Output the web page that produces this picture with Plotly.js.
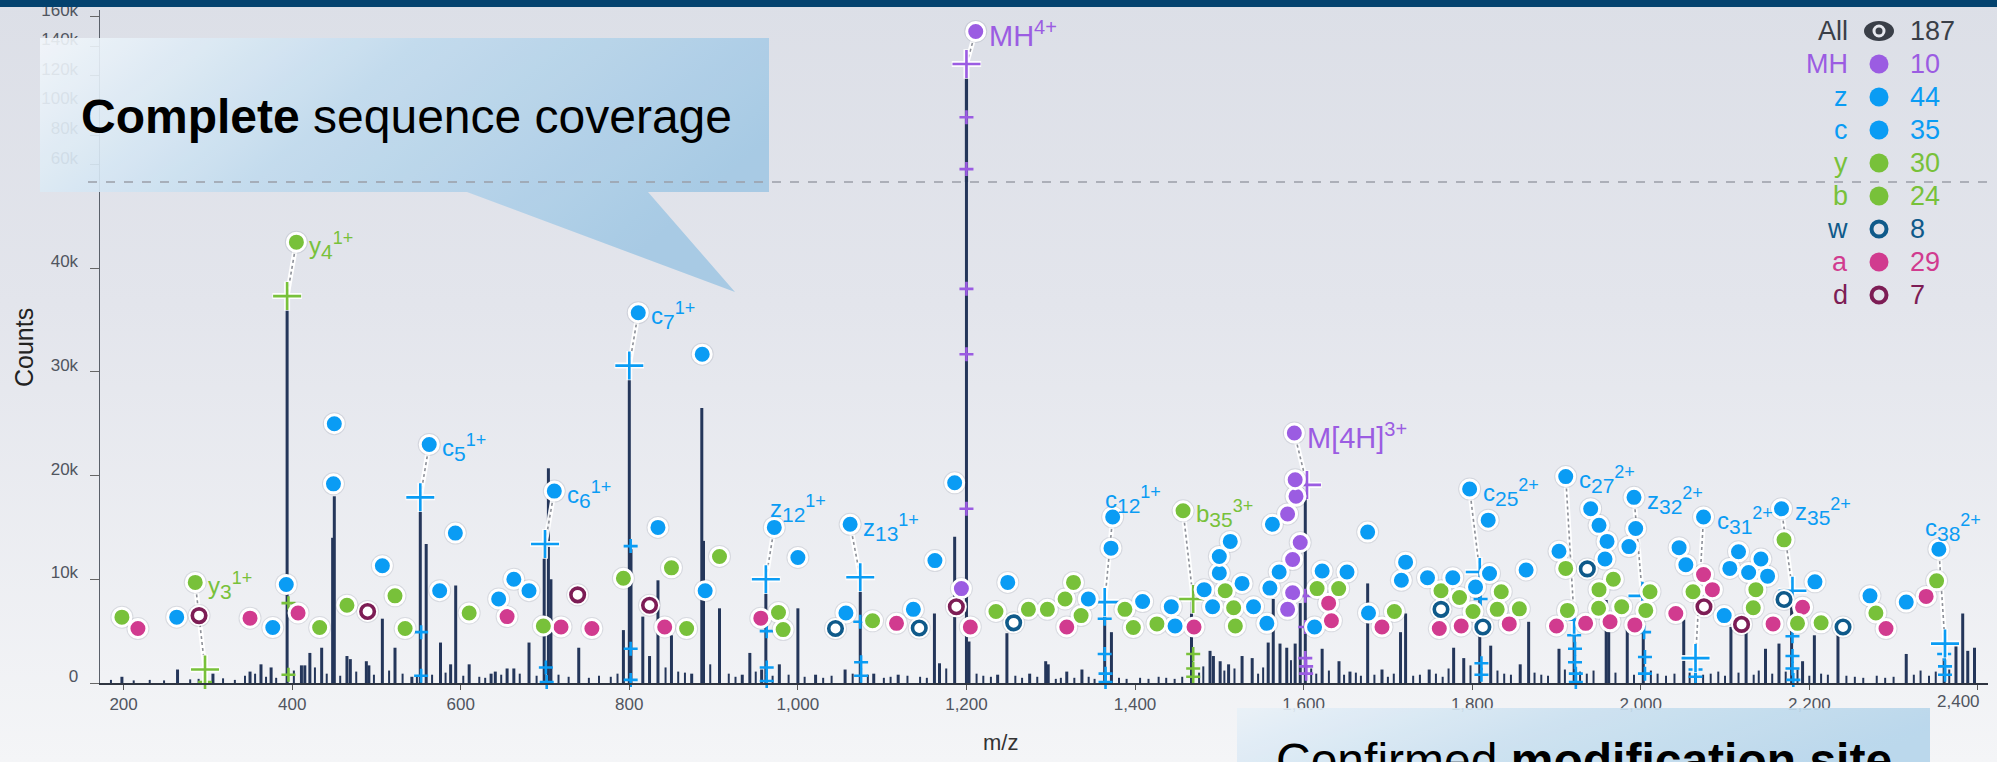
<!DOCTYPE html>
<html>
<head>
<meta charset="utf-8">
<script src="https://cdn.plot.ly/plotly-3.0.1.min.js"></script>
<style>
html,body{margin:0;padding:0;width:1997px;height:762px;overflow:hidden;
background:linear-gradient(to bottom,#dcdfe7 0%,#e3e5ec 40%,#f4f5f7 100%);}
#chart{width:1997px;height:762px;}
</style>
</head>
<body>
<div id="chart"></div>
<script>
// ================= DATA =================
// Spectrum: main peaks (m/z, counts)
const peakMz = [198,264,306,350,363,375,394,411,415,421,435,448,450,465,469,488,491,507,522,542,552,559,576,588,594,610,636,641,655,663,681,699,704,707,740,793,800,802,816,824,834,850,874,886,888,907,934,943,957,962,978,1000,1021,1056,1074,1090,1119,1162,1168,1186,1200,1203,1237,1248,1275,1294,1297,1319,1337,1364,1372,1467,1489,1493,1501,1511,1527,1539,1558,1564,1572,1580,1590,1596,1602,1622,1642,1655,1676,1693,1715,1721,1749,1778,1790,1809,1822,1857,1867,1903,1921,1959,1962,1984,2003,2051,2065,2107,2125,2148,2164,2179,2192,2206,2234,2315,2360,2374,2382,2388,2396];
const peakCounts = [600,1300,900,1100,1800,1500,37000,1700,1700,2900,3400,14000,18000,2600,2300,2100,1700,6200,3400,600,17600,13400,3900,1800,9400,1800,900,1100,1400,1400,3900,13300,20700,10000,3400,5100,30400,12900,6400,2600,9900,4600,900,26500,13700,7200,800,2900,1300,10000,1800,7200,800,1300,10100,900,800,6700,1900,14100,128000,4000,800,4800,900,2100,1800,1100,1300,7800,4900,8000,3100,2600,2100,1800,2600,2400,3900,8100,3800,3400,3800,7700,19000,3300,2100,1100,9600,1300,4900,6700,1300,3400,2400,10600,3600,1800,5900,3300,6100,8000,5100,5200,8300,6100,2400,5400,4900,3300,3800,8800,2100,4600,4600,2800,3800,3600,6700,3100,3400];
// Spectrum: small baseline peaks
const minorMz = [185,212,231,248,279,289,318,332,344,356,369,381,402,427,441,457,476,497,515,531,548,566,582,603,622,629,648,670,690,716,728,752,764,778,786,843,858,866,896,918,926,950,970,989,1008,1030,1040,1065,1083,1102,1110,1130,1145,1153,1176,1212,1220,1229,1258,1266,1284,1306,1312,1328,1345,1352,1381,1390,1406,1416,1428,1437,1447,1456,1476,1481,1506,1518,1546,1552,1585,1609,1615,1630,1648,1662,1668,1684,1700,1707,1730,1738,1757,1765,1772,1798,1830,1838,1846,1874,1882,1890,1910,1928,1936,1944,1970,1992,2012,2020,2030,2040,2058,2074,2083,2092,2100,2116,2134,2140,2156,2172,2186,2200,2214,2222,2244,2254,2264,2280,2290,2300,2324,2332,2342,2350,2366];
const minorCounts = [300,250,300,250,350,400,450,300,700,900,600,500,1200,1500,900,700,1100,800,1200,900,700,800,1000,700,600,500,800,900,700,800,600,500,700,600,900,1500,1100,1000,1800,900,600,1100,700,800,600,500,700,900,800,500,600,700,600,500,1400,900,700,600,700,500,600,400,500,500,600,400,500,400,500,400,600,500,400,600,1000,1600,1200,1400,900,1500,2200,1400,900,1200,800,1000,700,800,600,900,700,800,900,600,1400,1700,1200,900,800,1000,800,700,1300,1100,900,1200,1000,800,1200,900,700,900,1000,800,900,1100,700,1000,800,1200,900,1100,1300,700,900,800,700,600,500,700,500,600,800,1200,700,1100,1300];

// Fragment ions (unlabelled), placed at (m/z, counts)
const czMz = [263,377,393,450,449,507,575,593.6,645,663,681,834,886.5,890,1000,1057,1137,1162.6,1186,1249,1344.6,1371.5,1409,1443,1447.5,1482,1492,1500,1500,1513,1527,1540.6,1556.4,1563,1560,1571,1622,1651.5,1613,1676,1677,1721,1716,1747,1777,1819,1820.6,1804,1864,1903,1940.6,1950.5,1960,1957.6,1994,1986,2045.5,2053.5,2099,2116,2105.7,2128,2142.6,2150.5,2206.7,2272,2315];
const czCounts = [6350,5350,9500,25000,19200,11300,8900,14450,8100,10000,8900,15000,31700,8900,12100,6750,7100,11800,19300,9700,8100,13000,7850,7350,5500,9000,7350,10600,12200,13650,9600,7350,5750,15300,9150,10700,10800,10700,5400,14550,6750,11650,9900,10150,10150,15700,10550,9250,10900,12700,16800,15200,13650,11950,14900,13150,13050,11400,6500,12650,11050,10650,11950,10300,9750,8400,7800];
const ybMz = [198,432.6,465,522,534,610,698,793,850,868,907,977,982.5,1088.6,1235,1273.5,1296,1327,1317,1336,1388,1398,1426,1507,1517,1519,1616,1641.6,1707.7,1763,1785,1801,1834.5,1829.7,1856,1911,1913,1967.5,1950.5,1950,1977.4,2011,2006,2062,2136.6,2133.5,2170,2186,2214,2279,2351];
const ybCounts = [6350,5350,7500,8400,5250,6750,5500,10100,11100,5250,12200,6800,5150,6000,6900,7100,7100,9700,8100,6500,7100,5350,5700,8900,7250,5500,9100,9100,6900,8900,8250,6900,8800,7100,7150,11050,7000,10000,9000,7200,7350,8800,7000,8800,9000,7250,13800,5750,5800,6750,9850];
const aMz = [217,350,407,655,719,755.6,842,956,1117,1204.6,1319,1470,1629.7,1633,1693,1761,1787,1844,1900,1934.6,1963.6,1993,2041.6,2074.5,2085,2157,2192,2291,2338.6];
const aCounts = [5250,6250,6750,6400,5400,5250,5400,6250,5750,5400,5400,5400,7700,6000,5400,5250,5500,5700,5500,5750,5900,5600,6700,10450,9000,5700,7300,5250,8350];
const wMz = [1044.6,1144,1256,1763,1812.7,1936.6,2170,2240];
const wCounts = [5250,5300,5800,7100,5400,11000,8050,5400];
const dMz = [289.5,489.5,738.7,824,1188,2075,2119.6];
const dCounts = [6500,6900,8500,7500,7350,7350,5650];
const mhMz = [1194,1581,1591,1590,1596,1587,1587,1581];
const mhCounts = [9100,16300,18000,19600,13550,11900,8700,7100];

// Labelled ions: label dot position and matched peak position
const labIon = ['y','y','c','c','c','z','z','MH','c','b','MH','c','c','z','c','z','c'];
const labBase = ['y','y','c','c','c','z','z','MH','c','b','M[4H]','c','c','z','c','z','c'];
const labSub = ['3','4','5','6','7','12','13','','12','35','','25','27','32','31','35','38'];
const labCharge = ['1+','1+','1+','1+','1+','1+','1+','4+','1+','3+','3+','2+','2+','2+','2+','2+','2+'];
const labMz = [285,405,562.6,711,810.6,972,1062,1211,1373.5,1457,1589,1797,1911,1992,2074.5,2167,2353.7];
const labCounts = [9700,42500,23000,18500,35700,15000,15300,150000,16000,16600,24100,18700,19900,17900,16000,16800,12900];
const matchMz = [296.6,394,552,700,800,962,1074,1200,1364,1469,1604,1809,1921,2002,2065,2180,2361];
const matchCounts = [1300,37300,17900,13400,30600,10000,10200,128000,7800,8100,19100,10700,6100,8400,2400,8900,3800];

// Isotope match marks
const isoGreenMz = [395.6,395.6,296.6,1469,1469,1469];
const isoGreenCounts = [7700,800,100,2800,1400,600];
const isoBlueMz = [553,553,701,702,801.6,801.6,801.6,963,963,963,1074,1075,1075,1364,1364,1365,1365,1810,1811,1811,1921,1922,1922,1923,1923,2004,2005,2005,2065,2065,2180,2180,2180,2181,2360,2361,2361];
const isoBlueCounts = [4900,700,1500,100,13200,3300,300,5000,1500,200,5900,2000,700,6200,2800,900,100,8100,1900,800,4600,3300,2000,900,100,4900,2500,900,1300,600,4500,2600,1400,300,2800,1600,800];
const isoPurpleMz = [1200,1200,1200,1200,1200,1602,1602,1602,1603,1603];
const isoPurpleCounts = [92000,57000,38000,31700,16800,8400,5400,2400,1600,900];

// Legend
const legendNames = ['All','MH','z','c','y','b','w','a','d'];
const legendCounts = [187,10,44,35,30,24,8,29,7];

// Axis ticks
const xTickVals = [200,400,600,800,1000,1200,1400,1600,1800,2000,2200,2400];
const xTickText = ['200','400','600','800','1,000','1,200','1,400','1,600','1,800','2,000','2,200','2,400'];
const yTickVals = [0,10000,20000,30000,40000];
const yTickText = ['0','10k','20k','30k','40k'];
const y2TickVals = [60000,80000,100000,120000,140000,160000];
const y2TickText = ['60k','80k','100k','120k','140k','160k'];

// ================= STYLE / LAYOUT =================
const W = 1997, H = 762;
const px = v => v / W, py = v => 1 - v / H;
const FONT = 'Liberation Sans, Arial, Helvetica, sans-serif';
const Y_SPLIT = 48300, Y2_TOP = 164500;
const COL = {MH:'#9b5ce2', z:'#0a9cf4', c:'#0a9cf4', y:'#78c13a', b:'#78c13a', w:'#0f5a8a', a:'#d13b8f', d:'#7d1d55'};
const SPEC = '#24365a';
const axisOf = v => v > Y_SPLIT ? 'y2' : 'y';

const traces = [];

function sticks(mz, cnt, ax, w) {
  const x = [], y = [];
  mz.forEach((m, i) => {
    if (ax === 'y2' && cnt[i] <= Y_SPLIT) return;
    x.push(m, m, null); y.push(0, cnt[i], null);
  });
  if (!x.length) return;
  traces.push({type:'scatter', mode:'lines', x, y, yaxis:ax, line:{color:SPEC, width:w}, hoverinfo:'skip', showlegend:false});
}
sticks(minorMz, minorCounts, 'y', 2);
sticks(peakMz, peakCounts, 'y', 3);
sticks(peakMz, peakCounts, 'y2', 3.2);

function pts(xs, ys, marker) {
  ['y','y2'].forEach(ax => {
    const idx = ys.map((v, i) => i).filter(i => axisOf(ys[i]) === ax);
    if (!idx.length) return;
    traces.push({type:'scatter', mode:'markers', x: idx.map(i => xs[i]), y: idx.map(i => ys[i]), yaxis: ax,
      marker, cliponaxis:false, hoverinfo:'skip', showlegend:false});
  });
}

// connectors
['y','y2'].forEach(ax => {
  const x = [], y = [];
  labMz.forEach((m, i) => {
    if (axisOf(labCounts[i]) !== ax) return;
    x.push(m, matchMz[i], null); y.push(labCounts[i], matchCounts[i], null);
  });
  if (!x.length) return;
  traces.push({type:'scatter', mode:'lines', x, y, yaxis:ax, line:{color:'rgba(255,255,255,0.95)', width:5}, hoverinfo:'skip', showlegend:false, cliponaxis:false});
  traces.push({type:'scatter', mode:'lines', x, y, yaxis:ax, line:{color:'#8d9098', width:1.6, dash:'dot'}, hoverinfo:'skip', showlegend:false, cliponaxis:false});
});

// isotope marks
const smallPlus = c => ({symbol:'cross-thin', size:10, line:{color:c, width:2.6}});
pts(isoGreenMz, isoGreenCounts, smallPlus(COL.y));
pts(isoBlueMz, isoBlueCounts, smallPlus(COL.c));
pts(isoPurpleMz, isoPurpleCounts, smallPlus(COL.MH));

// matched peak "+" with halo
const matchColors = labIon.map(k => COL[k]);
['y','y2'].forEach(ax => {
  const idx = labMz.map((v, i) => i).filter(i => axisOf(matchCounts[i]) === ax);
  const x = idx.map(i => matchMz[i]), y = idx.map(i => matchCounts[i]);
  traces.push({type:'scatter', mode:'markers', x, y, yaxis:ax, cliponaxis:false, hoverinfo:'skip', showlegend:false,
    marker:{symbol:'cross-thin', size:21, line:{color:'rgba(255,255,255,0.9)', width:6}}});
  traces.push({type:'scatter', mode:'markers', x, y, yaxis:ax, cliponaxis:false, hoverinfo:'skip', showlegend:false,
    marker:{symbol:'cross-thin', size:20, line:{color: idx.map(i => matchColors[i]), width:2.6}}});
});

// dot shadows
const shadow = {size:23, color:'rgba(70,80,100,0.13)', line:{width:0}};
pts(czMz.concat(ybMz, aMz, wMz, dMz, mhMz, labMz), czCounts.concat(ybCounts, aCounts, wCounts, dCounts, mhCounts, labCounts), shadow);

const dot = c => ({symbol:'circle', size:18, color:c, line:{color:'#ffffff', width:3}});
const ringHalo = {symbol:'circle', size:21, color:'#ffffff', line:{width:0}};
const ring = c => ({symbol:'circle', size:13.5, color:'#ffffff', line:{color:c, width:3.6}});

pts(aMz, aCounts, dot(COL.a));
pts(ybMz, ybCounts, dot(COL.y));
pts(czMz, czCounts, dot(COL.c));
pts(wMz, wCounts, ringHalo); pts(wMz, wCounts, ring(COL.w));
pts(dMz, dCounts, ringHalo); pts(dMz, dCounts, ring(COL.d));
pts(mhMz, mhCounts, dot(COL.MH));
['y','y2'].forEach(ax => {
  const idx = labMz.map((v, i) => i).filter(i => axisOf(labCounts[i]) === ax);
  traces.push({type:'scatter', mode:'markers', x: idx.map(i => labMz[i]), y: idx.map(i => labCounts[i]), yaxis:ax,
    cliponaxis:false, hoverinfo:'skip', showlegend:false,
    marker:{symbol:'circle', size:18, color: idx.map(i => matchColors[i]), line:{color:'#fff', width:3}}});
});

// ---------- annotations ----------
const annotations = [];
const labelShift = {5:[-6,19], 8:[-10,18], 16:[-16,22]};
labMz.forEach((m, i) => {
  const big = labIon[i] === 'MH';
  const sh = labelShift[i] || [11,-3];
  let txt = labBase[i];
  if (labSub[i]) txt += '<sub><span style="font-size:21px">' + labSub[i] + '</span></sub>';
  txt += '<sup><span style="font-size:' + (big ? 20 : 18) + 'px">' + labCharge[i] + '</span></sup>';
  annotations.push({xref:'x', yref:axisOf(labCounts[i]), x:m, y:labCounts[i], text:txt, showarrow:false,
    xanchor:'left', yanchor:'middle', xshift:sh[0], yshift:sh[1],
    font:{family:FONT, size: big ? 29 : 24, color: COL[labIon[i]]}});
});
annotations.push({xref:'paper', yref:'paper', x:px(24), y:py(348), text:'Counts', textangle:-90, showarrow:false,
  xanchor:'center', yanchor:'middle', font:{family:FONT, size:25, color:'#222'}});
annotations.push({xref:'paper', yref:'paper', x:px(1000), y:py(742), text:'m/z', showarrow:false,
  xanchor:'center', yanchor:'middle', font:{family:FONT, size:22, color:'#333'}});
annotations.push({xref:'paper', yref:'paper', x:px(79), y:py(117), text:'<b>Complete</b> sequence coverage', showarrow:false,
  xanchor:'left', yanchor:'middle', font:{family:FONT, size:48, color:'#000'}});
annotations.push({xref:'paper', yref:'paper', x:px(1274), y:py(760), text:'Confirmed <b>modification site</b>', showarrow:false,
  xanchor:'left', yanchor:'middle', font:{family:FONT, size:48, color:'#000'}});

// last x tick label sits left of its tick (as in the reference)
const tickFont = {family:FONT, size:17, color:'#50555f'};
const lastTick = xTickVals.length - 1;
annotations.push({xref:'x', yref:'paper', x:xTickVals[lastTick], y:py(690), text:xTickText[lastTick], showarrow:false,
  xanchor:'right', yanchor:'top', xshift:4, font:tickFont});

// legend
const legendColor = ['#3a3f48', COL.MH, COL.z, COL.c, COL.y, COL.b, COL.w, COL.a, COL.d];
const legendKind = ['eye','dot','dot','dot','dot','dot','ring','dot','ring'];
const shapes = [];
legendNames.forEach((nm, i) => {
  const yy = py(31 + 33 * i);
  annotations.push({xref:'paper', yref:'paper', x:px(1850), y:yy, text:nm, showarrow:false, xanchor:'right', yanchor:'middle',
    font:{family:FONT, size:27, color:legendColor[i]}});
  annotations.push({xref:'paper', yref:'paper', x:px(1908), y:yy, text:String(legendCounts[i]), showarrow:false, xanchor:'left', yanchor:'middle',
    font:{family:FONT, size:27, color:legendColor[i]}});
  const base = {type:'circle', xref:'paper', yref:'paper', xsizemode:'pixel', ysizemode:'pixel', xanchor:px(1879), yanchor:yy, layer:'above'};
  if (legendKind[i] === 'dot') {
    shapes.push(Object.assign({}, base, {x0:-9.5, x1:9.5, y0:-9.5, y1:9.5, fillcolor:legendColor[i], line:{width:0}}));
  } else if (legendKind[i] === 'ring') {
    shapes.push(Object.assign({}, base, {x0:-7.5, x1:7.5, y0:-7.5, y1:7.5, fillcolor:'rgba(0,0,0,0)', line:{color:legendColor[i], width:4}}));
  } else {
    shapes.push(Object.assign({}, base, {x0:-15, x1:15, y0:-10, y1:10, fillcolor:legendColor[i], line:{width:0}}));
    shapes.push(Object.assign({}, base, {x0:-6.5, x1:6.5, y0:-6.5, y1:6.5, fillcolor:'#e6e8ee', line:{width:0}}));
    shapes.push(Object.assign({}, base, {x0:-3.5, x1:3.5, y0:-3.5, y1:3.5, fillcolor:legendColor[i], line:{width:0}}));
  }
});
// axis break dashed line
shapes.push({type:'line', xref:'paper', yref:'paper', x0:px(88), x1:px(1990), y0:py(182), y1:py(182),
  line:{color:'#9a9fa8', width:1.6, dash:'dash'}, layer:'above'});
// top banner
shapes.push({type:'rect', xref:'paper', yref:'paper', x0:0, x1:1, y0:py(7), y1:1, fillcolor:'#03426e', line:{width:0}, layer:'above'});

// callout boxes (gradient) as an inline SVG image
const svg = '<svg xmlns="http://www.w3.org/2000/svg" width="1997" height="762" viewBox="0 0 1997 762">' +
  '<defs>' +
  '<linearGradient id="g1" x1="0" y1="0" x2="1" y2="0.4"><stop offset="0" stop-color="#f3f7fb"/><stop offset="0.45" stop-color="#c1dbee"/><stop offset="1" stop-color="#a2c8e4"/></linearGradient>' +
  '<linearGradient id="g2" x1="0" y1="0" x2="1" y2="0.3"><stop offset="0" stop-color="#e9f1f8"/><stop offset="0.5" stop-color="#c9e0f0"/><stop offset="1" stop-color="#b5d5eb"/></linearGradient>' +
  '</defs>' +
  '<path d="M40 38H769V192H648L735 292L467 192H40Z" fill="url(#g1)"/>' +
  '<rect x="1237" y="708" width="693" height="80" fill="url(#g2)"/>' +
  '</svg>';
const images = [{source:'data:image/svg+xml;charset=utf-8,' + encodeURIComponent(svg), xref:'paper', yref:'paper',
  x:0, y:1, sizex:1, sizey:1, xanchor:'left', yanchor:'top', sizing:'stretch', layer:'above', opacity:0.9}];

const layout = {
  width:W, height:H, margin:{l:0, r:0, t:0, b:0},
  paper_bgcolor:'rgba(0,0,0,0)', plot_bgcolor:'rgba(0,0,0,0)', showlegend:false, font:{family:FONT},
  xaxis:{domain:[px(100), px(1988)], range:[172, 2412], anchor:'y', showgrid:false, zeroline:false,
    showline:true, linecolor:'#2f3540', linewidth:2, ticks:'outside', ticklen:5, tickcolor:'#555',
    tickvals:xTickVals, ticktext:xTickText.map((t, i) => i === lastTick ? ' ' : t), tickfont:tickFont},
  yaxis:{domain:[py(683), py(182)], range:[0, Y_SPLIT], anchor:'x', showgrid:false, zeroline:false,
    showline:true, linecolor:'#5a606a', linewidth:1.5, ticks:'outside', ticklen:9, tickcolor:'#666',
    tickvals:yTickVals, ticktext:yTickText, tickfont:tickFont, ticklabelshift:-7, ticklabelstandoff:8},
  yaxis2:{domain:[py(182), py(10)], range:[Y_SPLIT, Y2_TOP], anchor:'x', showgrid:false, zeroline:false,
    showline:true, linecolor:'#5a606a', linewidth:1.5, ticks:'outside', ticklen:9, tickcolor:'#666',
    tickvals:y2TickVals, ticktext:y2TickText, tickfont:tickFont, ticklabelshift:-7, ticklabelstandoff:8},
  shapes, annotations, images
};

Plotly.newPlot('chart', traces, layout, {staticPlot:true, displayModeBar:false});
</script>
</body>
</html>
